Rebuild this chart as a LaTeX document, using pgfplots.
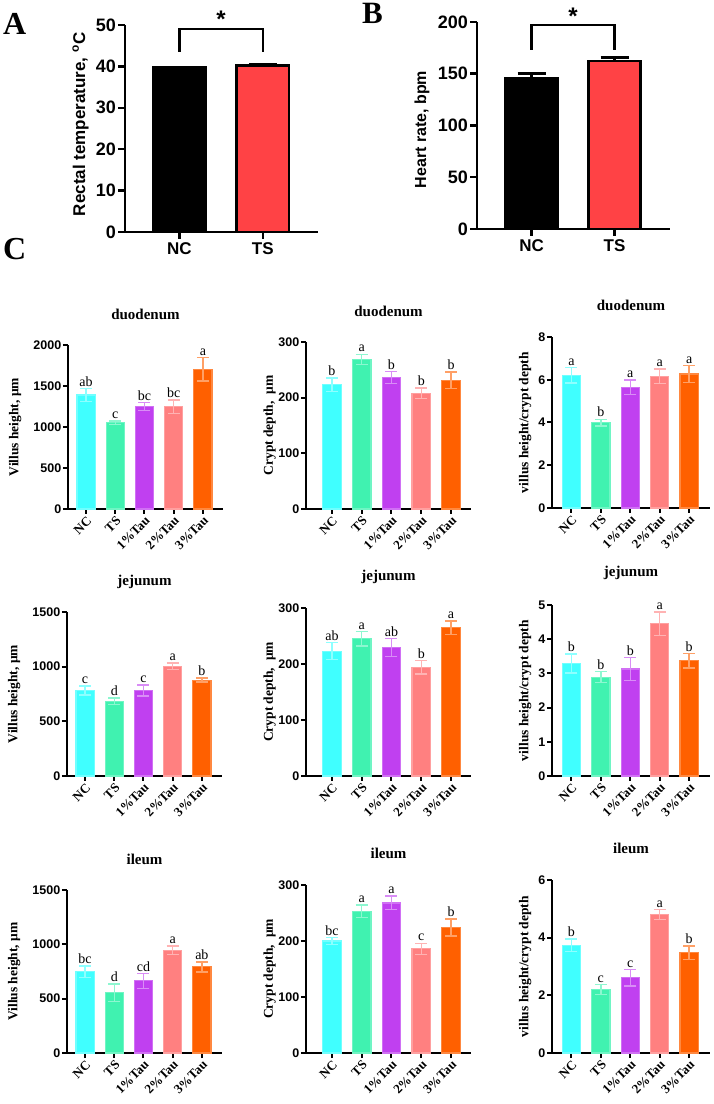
\documentclass[border=0pt]{standalone}
\usepackage{fontspec}
\setmainfont{Liberation Serif}
\newfontfamily\arialf{Liberation Sans}
\usepackage{pgfplots}
\pgfplotsset{compat=1.18}
\definecolor{cNC}{HTML}{40FFFF}
\definecolor{cTS}{HTML}{40F2B0}
\definecolor{cTa}{HTML}{C040F0}
\definecolor{cTb}{HTML}{FF8080}
\definecolor{cTc}{HTML}{FF6000}
\definecolor{cRed}{HTML}{FF4245}
\newcommand{\fs}[1]{\fontsize{#1}{#1}\selectfont}
% colour, x, mean, sem
\newcommand{\cbar}[4]{%
  \addplot[ybar, bar shift=0pt, bar width=0.62, fill=#1, draw=#1!75!white, line width=1.2pt,
    error bars/.cd, y dir=both, y explicit,
    error bar style={line width=1.4pt, #1!60!white},
    error mark options={rotate=90, mark size=6pt, line width=1.4pt, #1!60!white}]
    coordinates {(#2,#3) +- (0,#4)};}
\newcommand{\lab}[3]{\node[font=\fs{14}, anchor=south, inner sep=2pt] at (axis cs:#1,#2) {#3};}
\pgfplotsset{
  cpanel/.style={
    scale only axis, anchor=south west,
    axis lines=left, axis line style={-, line width=2pt},
    enlargelimits=false, ymin=0, clip=false,
    tick align=outside, major tick length=5pt,
    tick style={black, line width=2pt},
    /pgf/number format/assume math mode=true,
    /pgf/number format/1000 sep={},
    xtick={0,1,2,3,4},
    xticklabels={NC,TS,1\%Tau,2\%Tau,3\%Tau},
    yticklabel style={font=\arialf\bfseries\fs{12.5}, inner sep=1.5pt},
    xticklabel style={font=\bfseries\fs{13}, rotate=45, anchor=north east, inner sep=1pt},
    title style={font=\bfseries\fs{15}, at={(0.5,1.15)}, anchor=center},
  },
  col1/.style={cpanel, xmin=-0.62, xmax=4.69, width=155pt,
    ylabel={Villus height, μm}, ylabel style={font=\bfseries\fs{13.5}, at={(axis description cs:-0.34,0.5)}, anchor=center}},
  col2/.style={cpanel, xmin=-0.87, xmax=4.67, width=165pt,
    ylabel={Crypt depth,\ \ μm}, ylabel style={font=\bfseries\fs{13.5}, at={(axis description cs:-0.22,0.5)}, anchor=center}},
  col3/.style={cpanel, xmin=-0.66, xmax=4.71, width=158pt,
    ylabel={villus height/crypt depth}, ylabel style={font=\bfseries\fs{13.5}, at={(axis description cs:-0.17,0.5)}, anchor=center}},
  abpanel/.style={
    scale only axis, anchor=south west, width=193pt, height=207pt,
    axis lines=left, axis line style={-, line width=2.5pt},
    enlargelimits=false, ymin=0, clip=false,
    tick align=outside, major tick length=7pt,
    tick style={black, line width=2.5pt},
    /pgf/number format/assume math mode=true,
    xtick={0,1}, xticklabels={NC,TS},
    yticklabel style={font=\arialf\bfseries\fs{18}, inner sep=2pt},
    xticklabel style={font=\arialf\bfseries\fs{17}},
  },
  abbar/.style={ybar, bar shift=0pt, bar width=0.63, fill=#1, draw=black, line width=2.5pt,
    error bars/.cd, y dir=plus, y explicit,
    error bar style={line width=2.5pt, black},
    error mark options={rotate=90, mark size=14pt, line width=2.5pt, black}},
}
\begin{document}
\begin{tikzpicture}
\useasboundingbox (0pt,0pt) rectangle (714pt,1104pt);
\node[font=\bfseries\fs{32}, anchor=base west, inner sep=0pt] at (3pt,1069pt) {A};
\node[font=\bfseries\fs{31}, anchor=base west, inner sep=0pt] at (362pt,1080pt) {B};
\node[font=\bfseries\fs{32}, anchor=base west, inner sep=0pt] at (3pt,844pt) {C};

% ---------- A ----------
\begin{axis}[abpanel, at={(125pt,872pt)}, xmin=-0.65, xmax=1.66, ymax=50, ytick={0,10,...,50},
  ylabel={Rectal temperature, \textsuperscript{o}C},
  ylabel style={font=\arialf\bfseries\fs{17}, at={(axis description cs:-0.23,0.52)}, anchor=center}]
\addplot[abbar=black] coordinates {(0,39.7) +- (0,0.1)};
\addplot[abbar=cRed] coordinates {(1,40.2) +- (0,0.3)};
\addplot[black, line width=2.5pt, sharp plot, no marks] coordinates {(0,43.5) (0,49) (1,49) (1,43.5)};
\node[font=\arialf\bfseries\fs{24}] at (axis cs:0.5,51.5) {*};
\end{axis}

% ---------- B ----------
\begin{axis}[abpanel, at={(477pt,875pt)}, xmin=-0.66, xmax=1.67, ymax=200, ytick={0,50,...,200},
  ylabel={Heart rate, bpm},
  ylabel style={font=\arialf\bfseries\fs{16}, at={(axis description cs:-0.285,0.48)}, anchor=center}]
\addplot[abbar=black] coordinates {(0,146) +- (0,4)};
\addplot[abbar=cRed] coordinates {(1,162.4) +- (0,3.2)};
\addplot[black, line width=2.5pt, sharp plot, no marks] coordinates {(0,173) (0,197) (1,197) (1,173)};
\node[font=\arialf\bfseries\fs{24}] at (axis cs:0.5,206) {*};
\end{axis}

% ---------- duodenum ----------
\begin{axis}[col1, at={(68pt,595pt)}, height=164pt, ymax=2000, ytick={0,500,...,2000}, title={duodenum}]
\cbar{cNC}{0}{1390}{77}\cbar{cTS}{1}{1053}{20}\cbar{cTa}{2}{1248}{49}\cbar{cTb}{3}{1248}{81}\cbar{cTc}{4}{1703}{143}
\lab{0}{1467}{ab}\lab{1}{1073}{c}\lab{2}{1297}{bc}\lab{3}{1329}{bc}\lab{4}{1846}{a}
\end{axis}
\begin{axis}[col2, at={(306pt,595pt)}, height=167pt, ymax=300, ytick={0,100,200,300}, title={duodenum}]
\cbar{cNC}{0}{223}{12}\cbar{cTS}{1}{269}{9}\cbar{cTa}{2}{236}{11}\cbar{cTb}{3}{208}{9}\cbar{cTc}{4}{231}{15}
\lab{0}{235}{b}\lab{1}{278}{a}\lab{2}{247}{b}\lab{3}{217}{b}\lab{4}{246}{b}
\end{axis}
\begin{axis}[col3, at={(552pt,596pt)}, height=171pt, ymax=8, ytick={0,2,...,8}, title={duodenum}]
\cbar{cNC}{0}{6.21}{0.36}\cbar{cTS}{1}{3.99}{0.16}\cbar{cTa}{2}{5.64}{0.34}\cbar{cTb}{3}{6.16}{0.34}\cbar{cTc}{4}{6.27}{0.39}
\lab{0}{6.57}{a}\lab{1}{4.15}{b}\lab{2}{5.98}{a}\lab{3}{6.5}{a}\lab{4}{6.66}{a}
\end{axis}

% ---------- jejunum ----------
\begin{axis}[col1, at={(67pt,328pt)}, height=164pt, ymax=1500, ytick={0,500,...,1500}, title={jejunum}]
\cbar{cNC}{0}{782}{40}\cbar{cTS}{1}{684}{31}\cbar{cTa}{2}{782}{49}\cbar{cTb}{3}{1003}{31}\cbar{cTc}{4}{877}{18}
\lab{0}{822}{c}\lab{1}{715}{d}\lab{2}{831}{c}\lab{3}{1034}{a}\lab{4}{895}{b}
\end{axis}
\begin{axis}[col2, at={(306pt,328pt)}, height=168pt, ymax=300, ytick={0,100,200,300}, title={jejunum}]
\cbar{cNC}{0}{223}{15}\cbar{cTS}{1}{245}{13}\cbar{cTa}{2}{229}{16}\cbar{cTb}{3}{194}{12}\cbar{cTc}{4}{265}{12}
\lab{0}{238}{ab}\lab{1}{258}{a}\lab{2}{245}{ab}\lab{3}{206}{b}\lab{4}{277}{a}
\end{axis}
\begin{axis}[col3, at={(552pt,328pt)}, height=171pt, ymax=5, ytick={0,1,...,5}, title={jejunum}]
\cbar{cNC}{0}{3.29}{0.28}\cbar{cTS}{1}{2.89}{0.16}\cbar{cTa}{2}{3.13}{0.33}\cbar{cTb}{3}{4.45}{0.35}\cbar{cTc}{4}{3.37}{0.21}
\lab{0}{3.57}{b}\lab{1}{3.05}{b}\lab{2}{3.46}{b}\lab{3}{4.8}{a}\lab{4}{3.58}{b}
\end{axis}

% ---------- ileum ----------
\begin{axis}[col1, at={(67pt,51pt)}, height=163pt, ymax=1500, ytick={0,500,...,1500}, title={ileum}]
\cbar{cNC}{0}{747}{52}\cbar{cTS}{1}{556}{80}\cbar{cTa}{2}{664}{68}\cbar{cTb}{3}{944}{40}\cbar{cTc}{4}{793}{46}
\lab{0}{799}{bc}\lab{1}{636}{d}\lab{2}{732}{cd}\lab{3}{984}{a}\lab{4}{839}{ab}
\end{axis}
\begin{axis}[col2, at={(306pt,51pt)}, height=168pt, ymax=300, ytick={0,100,200,300}, title={ileum}]
\cbar{cNC}{0}{200}{6.5}\cbar{cTS}{1}{253}{11}\cbar{cTa}{2}{268}{12}\cbar{cTb}{3}{186}{10}\cbar{cTc}{4}{224}{15}
\lab{0}{206}{bc}\lab{1}{264}{a}\lab{2}{280}{a}\lab{3}{196}{c}\lab{4}{239}{b}
\end{axis}
\begin{axis}[col3, at={(552pt,51pt)}, height=173pt, ymax=6, ytick={0,2,4,6}, title={ileum}]
\cbar{cNC}{0}{3.74}{0.21}\cbar{cTS}{1}{2.2}{0.18}\cbar{cTa}{2}{2.61}{0.29}\cbar{cTb}{3}{4.81}{0.17}\cbar{cTc}{4}{3.48}{0.23}
\lab{0}{3.95}{b}\lab{1}{2.38}{c}\lab{2}{2.9}{c}\lab{3}{4.98}{a}\lab{4}{3.71}{b}
\end{axis}
\end{tikzpicture}
\end{document}
